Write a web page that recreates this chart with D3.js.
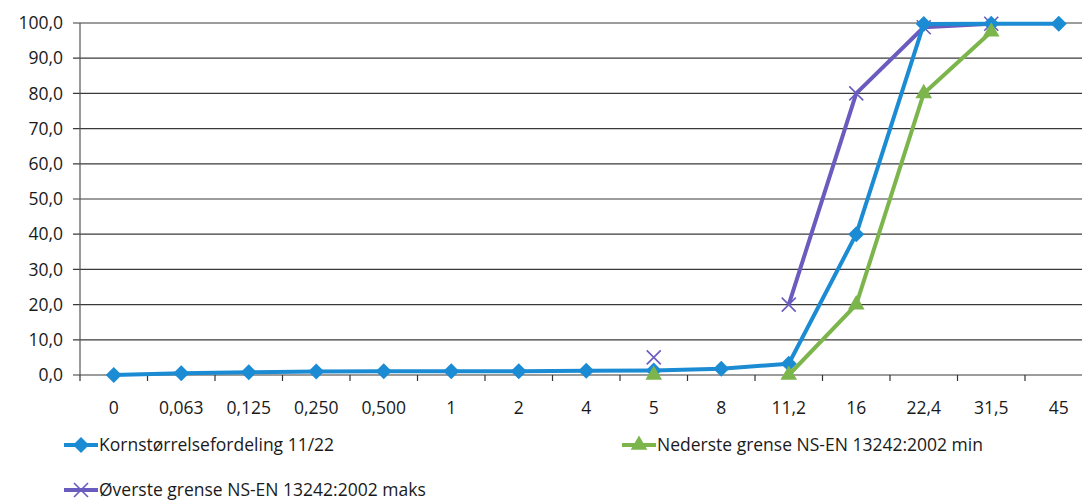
<!DOCTYPE html>
<html>
<head>
<meta charset="utf-8">
<script src="https://cdn.jsdelivr.net/npm/d3@7"></script>
<style>
body { margin: 0; background: #fff; }
text { font-family: "Open Sans", "Liberation Sans", sans-serif; fill: #1a1a1a; }
</style>
</head>
<body>
<div id="chart"></div>
<script>
const categories = ["0", "0,063", "0,125", "0,250", "0,500", "1", "2", "4", "5", "8", "11,2", "16", "22,4", "31,5", "45"];
const korn = [0, 0.5, 0.8, 1.0, 1.1, 1.1, 1.1, 1.2, 1.3, 1.8, 3.2, 40, 99.7, 99.8, 99.8];
const nedre = [null, null, null, null, null, null, null, null, 0, null, 0, 20, 80, 97.5, null];
const ovre = [null, null, null, null, null, null, null, null, 5, null, 20, 80, 98.8, 99.8, null];
const yTicks = [0, 10, 20, 30, 40, 50, 60, 70, 80, 90, 100];

const width = 1082, height = 502;
const svg = d3.select("#chart").append("svg")
    .attr("width", width)
    .attr("height", height);

const x = d3.scaleBand()
    .domain(categories)
    .range([80, 80 + 15 * 67.5]);

const y = d3.scaleLinear()
    .domain([0, 100])
    .range([375, 23]);

const fmt = v => d3.format(".1f")(v).replace(".", ",");

// gridlines
svg.selectAll(".grid")
    .data(yTicks)
    .enter().append("line")
    .attr("x1", 73).attr("x2", width)
    .attr("y1", d => y(d)).attr("y2", d => y(d))
    .attr("stroke", "#3a3a3a")
    .attr("stroke-width", 1.2);

svg.selectAll(".ylab")
    .data(yTicks)
    .enter().append("text")
    .attr("x", 63)
    .attr("y", d => y(d))
    .attr("dy", "0.35em")
    .attr("text-anchor", "end")
    .style("font-size", "17.5px")
    .text(fmt);

// axes lines
svg.append("line")
    .attr("x1", 80).attr("x2", 80)
    .attr("y1", y(100)).attr("y2", y(0))
    .attr("stroke", "#555").attr("stroke-width", 1.2);

svg.selectAll(".xtick")
    .data(categories)
    .enter().append("line")
    .attr("x1", d => x(d)).attr("x2", d => x(d))
    .attr("y1", y(0)).attr("y2", y(0) + 6)
    .attr("stroke", "#333").attr("stroke-width", 1.2);

svg.selectAll(".xlab")
    .data(categories)
    .enter().append("text")
    .attr("x", d => x(d) + x.bandwidth() / 2)
    .attr("y", 414)
    .attr("text-anchor", "middle")
    .style("font-size", "17.5px")
    .text(d => d);

const cx = d => x(d) + x.bandwidth() / 2;

const series = [
    { name: "Kornstørrelsefordeling 11/22", values: korn, color: "#1b8bd3", marker: "diamond" },
    { name: "Nederste grense NS-EN 13242:2002 min", values: nedre, color: "#7cb54c", marker: "triangle" },
    { name: "Øverste grense NS-EN 13242:2002 maks", values: ovre, color: "#6a5cbf", marker: "x" }
];

const line = d3.line()
    .defined(d => d.v !== null)
    .x(d => cx(d.c))
    .y(d => y(d.v));

function drawMarker(g, type, color) {
    if (type === "diamond") {
        g.append("path").attr("d", "M0,-8L8,0L0,8L-8,0Z")
            .attr("fill", color);
    } else if (type === "triangle") {
        g.append("path").attr("d", d3.symbol(d3.symbolTriangle, 120)())
            .attr("fill", color);
    } else {
        g.append("path").attr("d", "M-7,-7L7,7M-7,7L7,-7")
            .attr("stroke", color).attr("stroke-width", 1.6).attr("fill", "none");
    }
}

// draw order: purple, blue, green
[series[2], series[0], series[1]].forEach(s => {
    const pts = categories.map((c, i) => ({ c: c, v: s.values[i] }));
    svg.append("path")
        .datum(pts)
        .attr("d", line)
        .attr("fill", "none")
        .attr("stroke", s.color)
        .attr("stroke-width", 4)
        .attr("stroke-linejoin", "round");
    pts.filter(p => p.v !== null).forEach(p => {
        const g = svg.append("g").attr("transform", `translate(${cx(p.c)},${y(p.v)})`);
        drawMarker(g, s.marker, s.color);
    });
});

// legend
const legendPos = [[64, 445], [622, 445], [64, 490]];
series.forEach((s, i) => {
    const [lx, ly] = legendPos[i];
    svg.append("line")
        .attr("x1", lx).attr("x2", lx + 34)
        .attr("y1", ly).attr("y2", ly)
        .attr("stroke", s.color).attr("stroke-width", 4);
    const g = svg.append("g").attr("transform", `translate(${lx + 17},${ly})`);
    drawMarker(g, s.marker, s.color);
    svg.append("text")
        .attr("x", lx + 35)
        .attr("y", ly)
        .attr("dy", "0.35em")
        .style("font-size", "17.5px")
        .text(s.name);
});
</script>
</body>
</html>
